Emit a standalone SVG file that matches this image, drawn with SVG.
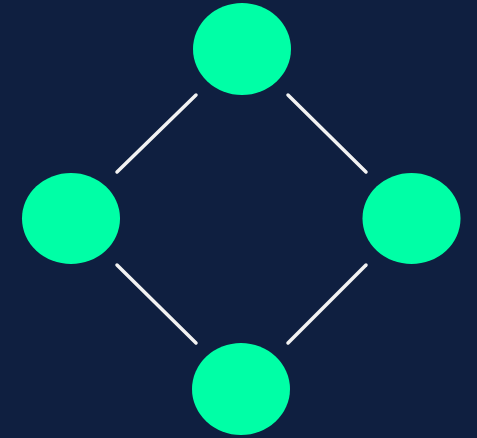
<svg xmlns="http://www.w3.org/2000/svg" width="477" height="438" viewBox="0 0 477 438">
<style>
.node{fill:#00ffa6}
.edge{stroke:#f2f2f2;stroke-width:3.5;stroke-linecap:round;fill:none}
</style>
<rect width="477" height="438" fill="#0f1f40"/>
<g id="connectors">
<line class="edge" x1="117" y1="172" x2="196" y2="95"/>
<line class="edge" x1="288" y1="95" x2="366" y2="172"/>
<line class="edge" x1="117" y1="265" x2="196" y2="343"/>
<line class="edge" x1="288" y1="343" x2="366" y2="265"/>
</g>
<g id="node-top"><ellipse class="node" cx="242" cy="49" rx="49" ry="46"/></g>
<g id="node-left"><ellipse class="node" cx="71" cy="218.5" rx="49" ry="45.5"/></g>
<g id="node-right"><ellipse class="node" cx="411.5" cy="218.5" rx="49" ry="45.5"/></g>
<g id="node-bottom"><ellipse class="node" cx="241" cy="389" rx="49" ry="46"/></g>
</svg>
